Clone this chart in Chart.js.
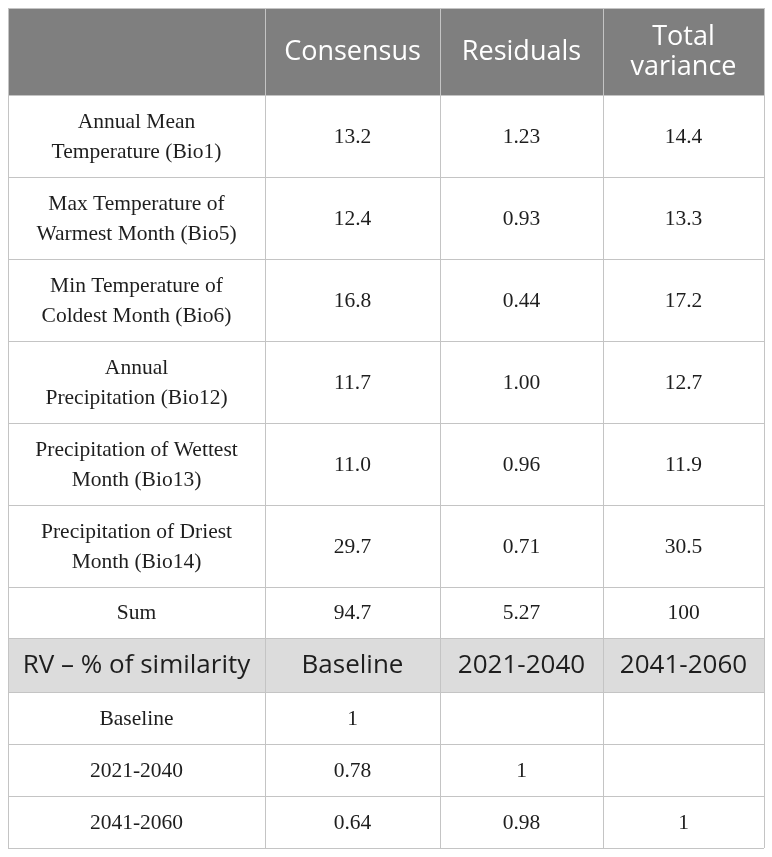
<!DOCTYPE html>
<html>
<head>
<meta charset="utf-8">
<script src="https://cdn.jsdelivr.net/npm/chart.js@4.4.1/dist/chart.umd.min.js"></script>
<style>
  html, body { margin: 0; padding: 0; background: #ffffff; }
  canvas { display: block; }
</style>
</head>
<body>
<canvas id="c" width="772" height="857"></canvas>
<script>
// ---- data ----
const headerColumns = ['', 'Consensus', 'Residuals', 'Total\nvariance'];
const variableLabels = [
  'Annual Mean\nTemperature (Bio1)',
  'Max Temperature of\nWarmest Month (Bio5)',
  'Min Temperature of\nColdest Month (Bio6)',
  'Annual\nPrecipitation (Bio12)',
  'Precipitation of Wettest\nMonth (Bio13)',
  'Precipitation of Driest\nMonth (Bio14)',
  'Sum'
];
const consensus     = ['13.2', '12.4', '16.8', '11.7', '11.0', '29.7', '94.7'];
const residuals     = ['1.23', '0.93', '0.44', '1.00', '0.96', '0.71', '5.27'];
const totalVariance = ['14.4', '13.3', '17.2', '12.7', '11.9', '30.5', '100'];

const rvColumns   = ['RV – % of similarity', 'Baseline', '2021-2040', '2041-2060'];
const rvLabels    = ['Baseline', '2021-2040', '2041-2060'];
const rvBaseline  = ['1', '0.78', '0.64'];
const rv20212040  = ['', '1', '0.98'];
const rv20412060  = ['', '', '1'];

// ---- layout (scale units) ----
const colEdges = [0, 257, 432, 595, 756];
const rowEdges = [0, 87, 169, 251, 333, 415, 497, 579, 630, 684, 736, 788, 840];

// build table rows
const rows = [];
rows.push({ kind: 'head', cells: headerColumns });
variableLabels.forEach((lab, i) => rows.push({ kind: 'body', cells: [lab, consensus[i], residuals[i], totalVariance[i]] }));
rows.push({ kind: 'sub', cells: rvColumns });
rvLabels.forEach((lab, i) => rows.push({ kind: 'body', cells: [lab, rvBaseline[i], rv20212040[i], rv20412060[i]] }));

const mid = (a, i) => (a[i] + a[i + 1]) / 2;
const datasets = [0, 1, 2, 3].map(c => ({
  label: 'col' + c,
  data: rows.map((r, ri) => ({ x: mid(colEdges, c), y: mid(rowEdges, ri), text: r.cells[c], kind: r.kind })),
  pointRadius: 0,
  pointHoverRadius: 0
}));

const styles = {
  head: { font: '27px "Open Sans"', color: '#ffffff', fill: '#7f7f7f', lh: 30 },
  sub:  { font: '26px "Open Sans"', color: '#1e1e1e', fill: '#dcdcdc', lh: 30 },
  body: { font: '21.5px "Liberation Serif"', color: '#1e1e1e', fill: null, lh: 30 }
};

const tablePlugin = {
  id: 'tablePlugin',
  beforeDraw(chart) {
    const { ctx, scales: { x, y } } = chart;
    ctx.save();
    rows.forEach((r, ri) => {
      const st = styles[r.kind];
      if (!st.fill) return;
      const x0 = x.getPixelForValue(colEdges[0]), x1 = x.getPixelForValue(colEdges[colEdges.length - 1]);
      const y0 = y.getPixelForValue(rowEdges[ri]), y1 = y.getPixelForValue(rowEdges[ri + 1]);
      ctx.fillStyle = st.fill;
      ctx.fillRect(x0, y0, x1 - x0, y1 - y0);
    });
    ctx.restore();
  },
  afterDatasetsDraw(chart) {
    const { ctx } = chart;
    ctx.save();
    ctx.textAlign = 'center';
    ctx.textBaseline = 'middle';
    chart.data.datasets.forEach((ds, di) => {
      const meta = chart.getDatasetMeta(di);
      meta.data.forEach((el, i) => {
        const d = ds.data[i];
        if (!d.text) return;
        const st = styles[d.kind];
        ctx.font = st.font;
        ctx.fillStyle = st.color;
        const lines = d.text.split('\n');
        const off = (lines.length - 1) * st.lh / 2;
        lines.forEach((ln, li) => ctx.fillText(ln, el.x, el.y - off + li * st.lh + 1));
      });
    });
    ctx.restore();
  }
};

const gridOpts = { color: '#c4c4c4', lineWidth: 1, drawTicks: false };

new Chart(document.getElementById('c'), {
  type: 'scatter',
  data: { datasets },
  options: {
    responsive: false,
    animation: false,
    devicePixelRatio: 1,
    layout: { padding: { left: 8, right: 8, top: 8, bottom: 9 } },
    plugins: { legend: { display: false }, tooltip: { enabled: false } },
    events: [],
    scales: {
      x: {
        type: 'linear', min: 0, max: 756,
        grid: gridOpts, border: { display: false },
        ticks: { display: false },
        afterBuildTicks: s => { s.ticks = colEdges.map(v => ({ value: v })); },
        afterFit: s => { s.height = 0; }
      },
      y: {
        type: 'linear', min: 0, max: 840, reverse: true,
        grid: gridOpts, border: { display: false },
        ticks: { display: false },
        afterBuildTicks: s => { s.ticks = rowEdges.map(v => ({ value: v })); },
        afterFit: s => { s.width = 0; }
      }
    }
  },
  plugins: [tablePlugin]
});
</script>
</body>
</html>
